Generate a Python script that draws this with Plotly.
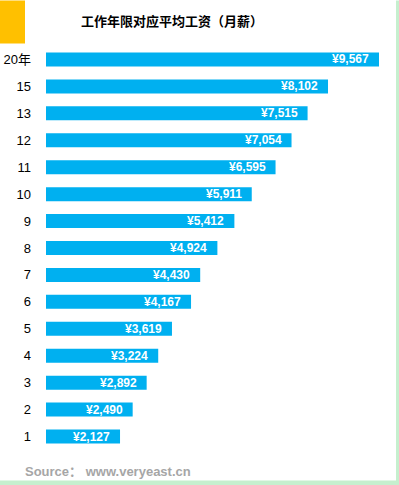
import plotly.graph_objects as go

categories = ["20年", "15", "13", "12", "11", "10", "9", "8", "7", "6", "5", "4", "3", "2", "1"]
salaries = [9567, 8102, 7515, 7054, 6595, 5911, 5412, 4924, 4430, 4167, 3619, 3224, 2892, 2490, 2127]
labels = ["¥{:,}".format(v) for v in salaries]
title_text = "工作年限对应平均工资（月薪）"
source_text = "Source： www.veryeast.cn"

W, H = 399, 485
L, R = 46, 379
T, B = 45.5, 450.5
pw, ph = R - L, B - T

def px(x):
    return (x - L) / pw

def py(y):
    return (B - y) / ph

n = len(categories)
ypos = list(range(n - 1, -1, -1))

fig = go.Figure(go.Bar(
    x=salaries, y=ypos, orientation="h",
    marker=dict(color="#00B0F0", line=dict(width=0)),
    width=0.52, hoverinfo="skip",
))

for v, yv, t in zip(salaries, ypos, labels):
    fig.add_annotation(x=v, y=yv, xref="x", yref="y", text=t, showarrow=False,
                       xanchor="right", xshift=-8,
                       font=dict(family="Liberation Sans, Arial", size=12, color="white", weight="bold"))

fig.add_annotation(x=px(172), y=py(20), xref="paper", yref="paper", text=title_text,
                   showarrow=False, xanchor="center", yanchor="middle",
                   font=dict(family="Noto Sans CJK SC", size=13, color="black", weight="bold"))
fig.add_annotation(x=px(23), y=py(472), xref="paper", yref="paper", text=source_text,
                   showarrow=False, xanchor="left", yanchor="middle",
                   font=dict(family="Liberation Sans, Noto Sans CJK SC", size=13, color="#A6A6A6", weight="bold"))

shapes = [
    dict(type="rect", xref="paper", yref="paper", x0=px(0), x1=px(25), y0=py(43), y1=py(0),
         fillcolor="#FFC000", line=dict(width=0), layer="below"),
    dict(type="rect", xref="paper", yref="paper", x0=px(396), x1=px(400), y0=py(486), y1=py(0),
         fillcolor="#C6EFCE", line=dict(width=0), layer="below"),
    dict(type="rect", xref="paper", yref="paper", x0=px(0), x1=px(400), y0=py(486), y1=py(481),
         fillcolor="#C6EFCE", line=dict(width=0), layer="below"),
]

fig.update_layout(
    width=W, height=H,
    margin=dict(l=L, r=W - R, t=T, b=H - B, pad=0, autoexpand=False),
    paper_bgcolor="white", plot_bgcolor="white",
    showlegend=False, shapes=shapes,
    xaxis=dict(range=[0, 9567], visible=False, fixedrange=True),
    yaxis=dict(range=[-0.5, n - 0.5], tickmode="array", tickvals=ypos, ticktext=categories,
               automargin=False, fixedrange=True,
               showgrid=False, zeroline=False, showline=False, ticks="", ticklabelstandoff=14,
               tickfont=dict(family="Liberation Sans, Noto Sans CJK SC", size=13, color="black")),
)

fig.write_html("out.html", config={"displayModeBar": False},
               post_script="document.body.style.margin='0';document.body.style.overflow='hidden';")
